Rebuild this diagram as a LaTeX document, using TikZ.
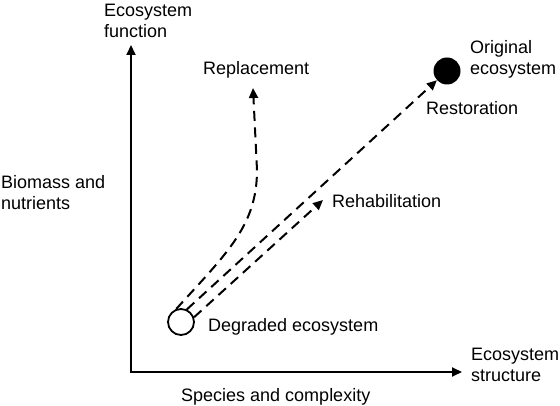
\documentclass[tikz,border=0pt]{standalone}
\usepackage{fontspec}
\setmainfont{Liberation Sans}
\usetikzlibrary{arrows.meta}
\begin{document}
\begin{tikzpicture}[x=1pt,y=-1pt,>={Triangle[length=10pt,width=9pt]},
  font=\fontsize{18}{21}\selectfont,
  lab/.style={inner sep=0pt,anchor=base west},
  lab2/.style={inner sep=0pt,anchor=north west,align=left},
  route/.style={->,line width=2pt,dash pattern=on 10pt off 6.5pt}]
  \useasboundingbox (0,0) rectangle (560,406);
  \coordinate (corner) at (131,372);
  \coordinate (ytip) at (131,45);
  \coordinate (xtip) at (462,372);
  \draw[<->,line width=1.8pt] (ytip) -- (corner) -- (xtip);
  \node[lab2] (yname) at (104,4) {Ecosystem\\function};
  \node[lab2] (ydesc) at (1,175) {Biomass and\\nutrients};
  \node[lab2] (xname) at (471,348) {Ecosystem\\structure};
  \node[lab] (xdesc) at (181,401) {Species and complexity};
  \node[circle,draw,line width=1.8pt,minimum size=26pt,inner sep=0pt] (degr) at (181,322) {};
  \node[circle,fill,minimum size=27pt,inner sep=0pt] (orig) at (447,71) {};
  \coordinate (repl) at (253,88);
  \coordinate (rehab) at (323,200);
  \draw[route] (degr.110) .. controls (228,252) and (257,225) .. (257,170) -- (repl);
  \draw[route] (degr.65) -- (orig);
  \draw[route] (degr.20) -- (rehab);
  \node[lab2] (origlab) at (470,40) {Original\\ecosystem};
  \node[lab] (degrlab) at (208,331) {Degraded ecosystem};
  \node[lab] (repllab) at (203,75) {Replacement};
  \node[lab] (restlab) at (426,115) {Restoration};
  \node[lab] (rehablab) at (332,208) {Rehabilitation};
\end{tikzpicture}
\end{document}
